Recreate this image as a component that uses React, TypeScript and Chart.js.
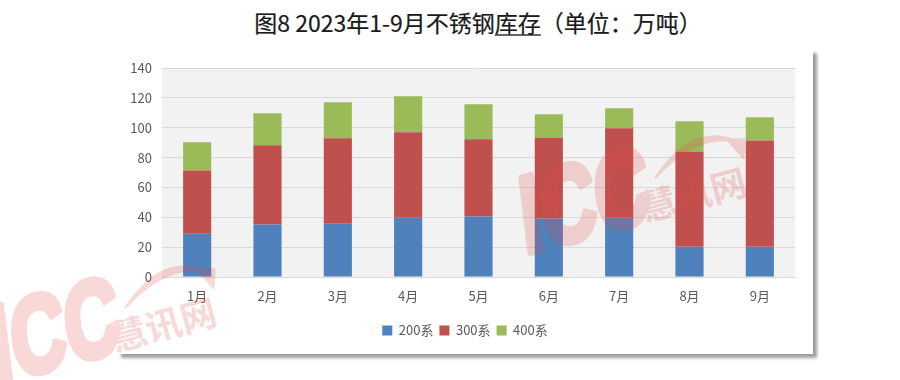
import React, { useEffect, useRef } from "react";
import { Chart, registerables } from "chart.js";

Chart.register(...registerables);

const categories = ["1月", "2月", "3月", "4月", "5月", "6月", "7月", "8月", "9月"];
const series200 = [29.0, 35.2, 35.7, 39.7, 40.6, 39.2, 39.7, 20.2, 20.2];
const series300 = [42.3, 53.0, 57.2, 57.2, 51.6, 54.3, 59.9, 63.9, 71.3];
const series400 = [19.0, 21.5, 24.2, 24.2, 23.5, 15.5, 13.4, 20.2, 15.5];
const seriesNames = ["200系", "300系", "400系"];
const seriesColors = ["#4f81bd", "#c0504d", "#9bbb59"];
const yTicks = [0, 20, 40, 60, 80, 100, 120, 140];

const FONT = "'Noto Sans CJK SC', 'Noto Sans', sans-serif";

const plotBg = {
  id: "plotBg",
  afterLayout(chart: any) {
    const lg = chart.legend;
    if (lg) {
      lg.left += 9;
      lg.right += 9;
    }
  },
  beforeDraw(chart: any) {
    const { ctx, chartArea } = chart;
    ctx.save();
    ctx.fillStyle = "#f2f2f2";
    ctx.fillRect(chartArea.left, chartArea.top, chartArea.right - chartArea.left, chartArea.bottom - chartArea.top);
    ctx.restore();
  },
};

function Watermark({ x, y }: { x: number; y: number }) {
  const col = "rgb(225,70,70)";
  return (
    <g transform={`translate(${x},${y}) rotate(-15)`} opacity={0.21}>
      <g transform="skewX(-8) scale(0.71,1)">
        <text
          x={6}
          y={0}
          fontFamily="'Liberation Sans', Arial, sans-serif"
          fontWeight={700}
          fontSize={108}
          fill={col}
          stroke={col}
          strokeWidth={7}
          strokeLinejoin="round"
        >
          ICC
        </text>
      </g>
      <text x={128} y={0} fontFamily={FONT} fontWeight={700} fontSize={36} fill={col}>
        慧讯网
      </text>
      <path d="M 150 -40 Q 200 -84 238 -54 Q 200 -72 150 -40 Z" fill={col} stroke={col} strokeWidth={2} strokeLinejoin="round" />
      <path d="M 229 -58 L 246 -54 L 240 -36 Z" fill={col} stroke={col} strokeWidth={2} strokeLinejoin="round" />
    </g>
  );
}

export default function App() {
  const canvasRef = useRef<HTMLCanvasElement | null>(null);

  useEffect(() => {
    if (!canvasRef.current) return;
    const chart = new Chart(canvasRef.current, {
      type: "bar",
      data: {
        labels: categories,
        datasets: [series200, series300, series400].map((d, i) => ({
          label: seriesNames[i],
          data: d,
          backgroundColor: seriesColors[i],
          borderWidth: 0,
          categoryPercentage: 1,
          barPercentage: 0.4,
        })),
      },
      options: {
        responsive: false,
        animation: false,
        devicePixelRatio: 1,
        layout: { padding: { left: 0, right: 18, top: 19, bottom: 7 } },
        plugins: {
          title: { display: false },
          tooltip: { enabled: false },
          legend: {
            position: "bottom",
            labels: {
              boxWidth: 10,
              boxHeight: 10,
              padding: 6,
              color: "#595959",
              font: { family: FONT, size: 13 },
            },
          },
        },
        scales: {
          x: {
            stacked: true,
            grid: { display: false, drawTicks: false },
            border: { display: true, color: "#d9d9d9", width: 1 },
            ticks: { color: "#595959", font: { family: FONT, size: 13 }, padding: 11 },
            afterFit: (s: any) => {
              s.height = 41;
            },
          },
          y: {
            stacked: true,
            min: 0,
            max: 140,
            afterBuildTicks: (s: any) => {
              s.ticks = yTicks.map((v) => ({ value: v }));
            },
            grid: { color: "#d9d9d9", lineWidth: 1, drawTicks: false },
            border: { display: false },
            ticks: { color: "#595959", font: { family: FONT, size: 13 }, padding: 10 },
            afterFit: (s: any) => {
              s.width = 45;
            },
          },
        },
      },
      plugins: [plotBg],
    });
    return () => chart.destroy();
  }, []);

  return (
    <div style={{ position: "fixed", left: 0, top: 0, width: 900, height: 380, background: "#fff", overflow: "hidden" }}>
      <div
        style={{
          position: "absolute",
          top: 6,
          left: 0,
          width: 956,
          textAlign: "center",
          fontFamily: FONT,
          fontSize: 23,
          fontWeight: 400,
          color: "#1a1a1a",
          whiteSpace: "nowrap",
          lineHeight: "32px",
          WebkitTextStroke: "0.2px #1a1a1a",
        }}
      >
        图8 2023年1-9月不锈钢<span style={{ textDecoration: "underline", textDecorationColor: "#666" }}>库存</span>（单位：万吨）
      </div>
      <div
        style={{
          position: "absolute",
          left: 117,
          top: 49,
          width: 696,
          height: 305,
          background: "#fff",
          boxShadow: "4px 4px 3px rgba(0,0,0,0.38)",
        }}
      >
        <canvas ref={canvasRef} width={696} height={305} style={{ display: "block" }} />
      </div>
      <svg width={900} height={380} style={{ position: "absolute", left: 0, top: 0, pointerEvents: "none" }}>
        <Watermark x={521} y={255} />
        <Watermark x={-9} y={385} />
      </svg>
    </div>
  );
}
